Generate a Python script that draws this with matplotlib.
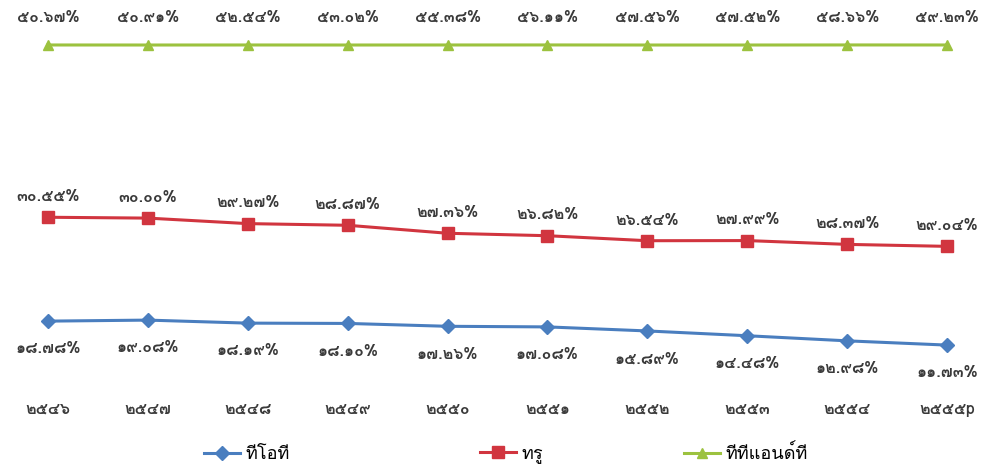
import matplotlib
matplotlib.use("Agg")
import matplotlib.pyplot as plt
from matplotlib import font_manager, ft2font
import numpy as np

# market share (%) by year, Thai numerals for the labels
years = ["๒๕๔๖", "๒๕๔๗", "๒๕๔๘", "๒๕๔๙", "๒๕๕๐",
         "๒๕๕๑", "๒๕๕๒", "๒๕๕๓", "๒๕๕๔", "๒๕๕๕p"]
tot = [18.78, 19.08, 18.19, 18.10, 17.26, 17.08, 15.89, 14.48, 12.98, 11.73]
true = [30.55, 30.00, 29.27, 28.87, 27.36, 26.82, 26.54, 27.99, 28.37, 29.04]
ttt = [50.67, 50.91, 52.54, 53.02, 55.38, 56.11, 57.56, 57.52, 58.66, 59.23]
names = ["ทีโอที", "ทรู", "ทีทีแอนด์ที"]
colors = ["#4A7EBF", "#D1353F", "#9CC23F"]
markers = ["D", "s", "^"]


def thai_font():
    for f in font_manager.fontManager.ttflist:
        try:
            cm = ft2font.FT2Font(f.fname).get_charmap()
        except Exception:
            continue
        if 0x0E17 in cm and 0x0E51 in cm:
            return f.name
    return None


fam = thai_font()
plt.rcParams['font.family'] = [fam, 'DejaVu Sans'] if fam else ['DejaVu Sans']

THAI_DIGITS = "๐๑๒๓๔๕๖๗๘๙"


def thai_num(v):
    s = "%.2f" % v
    return "".join(THAI_DIGITS[int(c)] if c.isdigit() else c for c in s) + "%"


series = [tot, true, ttt]
stacked = np.cumsum(np.array(series), axis=0)
x = np.arange(len(years))

fig = plt.figure(figsize=(9.87, 4.68), dpi=100)
ax = fig.add_axes([0.0486, 0.1774, 0.911, 0.7265])

handles = []
for i in range(3):
    h, = ax.plot(x, stacked[i], color=colors[i], lw=2.2, marker=markers[i],
                 markersize=7 if i != 1 else 8, markeredgecolor=colors[i],
                 label=names[i], clip_on=False)
    handles.append(h)

# label offsets in points (below for blue, above for red / green)
offsets = [-20, 15, 20]
for i in range(3):
    for xi, yi, v in zip(x, stacked[i], series[i]):
        ax.annotate(thai_num(v), (xi, yi), xytext=(0, offsets[i]), textcoords="offset points",
                    ha="center", va="center", fontsize=11.5, fontweight="bold",
                    color="#3a3a3a", annotation_clip=False)

ax.set_xlim(0, 9)
ax.set_ylim(0, 100)
ax.set_xticks(x)
ax.set_xticklabels(years, fontsize=11.5, fontweight="bold", color="#3a3a3a")
ax.tick_params(axis="x", length=0, pad=12)
ax.set_yticks([])
for s in ax.spines.values():
    s.set_visible(False)

centers = [0.25, 0.518, 0.756]
for h, cx in zip(handles, centers):
    fig.legend(handles=[h], loc="center", bbox_to_anchor=(cx, 0.03), frameon=False,
               fontsize=13, handlelength=2.0, handletextpad=0.3)

fig.savefig("out.png", dpi=100)
